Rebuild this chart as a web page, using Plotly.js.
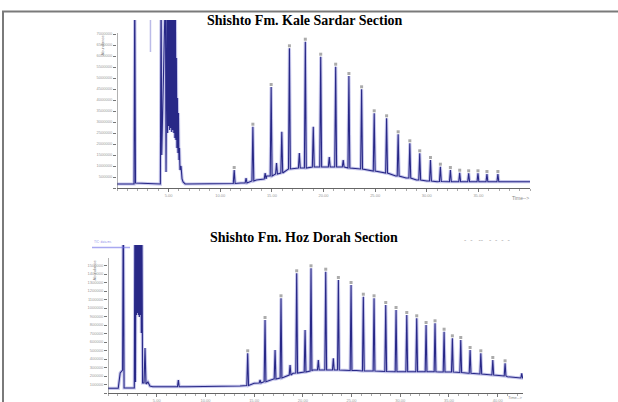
<!DOCTYPE html>
<html>
<head>
<meta charset="utf-8">
<script src="https://cdn.plot.ly/plotly-3.0.1.min.js"></script>
<style>html,body{margin:0;padding:0;background:#fff;}#chart{width:618px;height:402px;}</style>
</head>
<body>
<div id="chart"></div>
<script>
// ---------- Titles ----------
const titleTop = "Shishto Fm. Kale Sardar Section";
const titleBottom = "Shishto Fm. Hoz Dorah Section";

// ---------- Top chromatogram (Kale Sardar) : time (min), abundance (relative) ----------
const topSolventT = [0, 1.65, 1.72, 1.79, 4.2, 4.27, 4.33, 4.69, 4.75, 4.85, 4.9, 4.95, 5.0, 5.05, 5.1, 5.15, 5.2, 5.25, 5.3, 5.35, 5.4, 5.45, 5.5, 5.55, 5.6, 5.65, 5.7, 5.75, 5.8, 5.85, 5.9, 5.95, 6.0, 6.05, 6.1, 6.2, 6.3, 6.4, 6.6];
const topSolventY = [4, 4, 200, 5, 4, 200, 33, 200, 16, 200, 55, 200, 62, 200, 58, 200, 60, 200, 56, 200, 58, 200, 55, 200, 50, 200, 48, 130, 40, 90, 35, 75, 28, 40, 18, 22, 9, 6, 4];
const topBaseT = [8.0, 11.0, 12.0, 13.5, 14.5, 15.5, 16.5, 18.0, 20.0, 22.0, 23.5, 25.0, 26.0, 27.0, 28.0, 29.0, 30.0, 31.0, 33.5, 37.5, 40.0];
const topBaseY = [4, 4, 5, 8, 12, 15, 19, 20, 21, 20.5, 19, 17, 15, 12, 10, 8, 7, 6.3, 6.3, 6.3, 6.3];
const topPeakT    = [11.35, 12.5, 13.16, 14.35, 14.93, 15.45, 15.96, 16.70, 17.66, 18.24, 19.01, 19.73, 20.56, 21.18, 21.91, 22.46, 23.69, 24.91, 26.11, 27.23, 28.36, 29.32, 30.36, 31.32, 32.29, 33.19, 34.06, 34.96, 35.83, 36.89];
const topPeakBase = [4.5, 5, 7, 9, 12, 14, 15, 19, 20, 20, 21, 21, 21, 21, 21, 20, 19, 17, 15, 12, 10, 8, 7, 6.5, 6.3, 6.3, 6.3, 6.3, 6.3, 6.3];
const topPeakTop  = [18, 10, 61.3, 15, 101, 25, 56.3, 139.7, 35, 146.3, 61.3, 131.3, 31, 121.3, 28, 112, 98.7, 74.7, 69.7, 53.7, 44.7, 34.7, 28, 21.3, 18, 15.3, 14.7, 14.7, 14, 14];
const topLabelled = [1, 0, 1, 0, 1, 0, 0, 1, 0, 1, 0, 1, 0, 1, 0, 1, 1, 1, 1, 1, 1, 1, 1, 1, 1, 1, 1, 1, 1, 1];
const topGhostT = [3.24, 3.24];
const topGhostY = [200, 136];

// ---------- Bottom chromatogram (Hoz Dorah) ----------
const botSolventT = [0, 1.05, 1.25, 1.5, 1.57, 1.65, 2.7, 2.77, 2.82, 2.87, 2.92, 2.97, 3.02, 3.07, 3.12, 3.17, 3.22, 3.27, 3.32, 3.37, 3.42, 3.47, 3.55, 3.7, 3.8, 3.9, 4.1, 4.3, 4.6];
const botSolventY = [4.7, 4.7, 20, 23, 200, 5, 5, 200, 11, 200, 78, 200, 80, 200, 78, 200, 76, 200, 78, 200, 60, 200, 10, 10, 45, 9, 11, 7, 6.3];
const botBaseT = [6.0, 8.0, 12.5, 13.55, 15.0, 17.0, 19.0, 21.0, 23.0, 25.5, 28.0, 31.0, 34.0, 37.0, 39.0, 41.0, 42.81];
const botBaseY = [6.3, 6.3, 6.3, 7, 9.7, 14, 19.7, 23, 23, 22.5, 21.3, 21.3, 21, 19.7, 18, 16.3, 14.7];
const botPeakT    = [7.22, 14.34, 15.61, 16.12, 17.15, 17.76, 18.69, 19.37, 20.23, 20.84, 21.59, 22.35, 23.13, 23.65, 24.95, 26.21, 27.31, 28.51, 29.57, 30.67, 31.69, 32.65, 33.57, 34.50, 35.35, 36.21, 37.17, 38.27, 39.50, 40.76, 42.47];
const botPeakBase = [6.3, 7.5, 10, 11.3, 14, 15, 18, 20, 21, 22, 23, 23, 23, 23, 22.5, 22, 22, 21.5, 21.3, 21.3, 21.3, 21.3, 21.3, 21, 21, 20.5, 19.7, 19, 18, 17, 15];
const botPeakTop  = [13, 39.7, 13, 73, 43, 94.7, 28, 119.7, 63, 124.7, 33, 121.3, 34.7, 113, 108, 96.3, 94.7, 88, 83, 78, 74.7, 68, 69.7, 61.3, 54.7, 53, 43, 39.7, 33, 29.7, 19.7];
const botLabelled = [0, 1, 0, 1, 0, 1, 0, 1, 0, 1, 0, 1, 0, 1, 1, 1, 1, 1, 1, 1, 1, 1, 1, 1, 1, 1, 1, 1, 1, 1, 0];

// ---------- Axis ticks ----------
const topXTicks = [5, 10, 15, 20, 25, 30, 35];
const topXTickText = ["5.00", "10.00", "15.00", "20.00", "25.00", "30.00", "35.00"];
const botXTicks = [5, 10, 15, 20, 25, 30, 35, 40];
const botXTickText = ["5.00", "10.00", "15.00", "20.00", "25.00", "30.00", "35.00", "40.00"];
const topYTicks = [0, 11, 22, 33, 44, 55, 66, 77, 88, 99, 110, 121, 132, 143, 154];
const topYTickText = ["", "500000", "1000000", "1500000", "2000000", "2500000", "3000000", "3500000", "4000000", "4500000", "5000000", "5500000", "6000000", "6500000", "7000000"];
const botYTicks = [0, 8.5, 17, 25.5, 34, 42.5, 51, 59.5, 68, 76.5, 85, 93.5, 102, 110.5, 119, 127.5];
const botYTickText = ["", "100000", "200000", "300000", "400000", "500000", "600000", "700000", "800000", "900000", "1000000", "1100000", "1200000", "1300000", "1400000", "1500000"];

function buildChromatogram(solT, solY, baseT, baseY, pkT, pkBase, pkTop, w) {
  const pts = [];
  for (let i = 0; i < solT.length; i++) pts.push([solT[i], solY[i]]);
  for (let i = 0; i < baseT.length; i++) pts.push([baseT[i], baseY[i]]);
  for (let i = 0; i < pkT.length; i++) {
    pts.push([pkT[i] - w, pkBase[i]]);
    pts.push([pkT[i], pkTop[i]]);
    pts.push([pkT[i] + w, pkBase[i]]);
  }
  pts.sort((a, b) => a[0] - b[0]);
  return {x: pts.map(p => p[0]), y: pts.map(p => p[1])};
}

const topC = buildChromatogram(topSolventT, topSolventY, topBaseT, topBaseY, topPeakT, topPeakBase, topPeakTop, 0.09);
const botC = buildChromatogram(botSolventT, botSolventY, botBaseT, botBaseY, botPeakT, botPeakBase, botPeakTop, 0.09);

function labelPts(pkT, pkTop, lab) {
  const x = [], y = [];
  for (let i = 0; i < pkT.length; i++) if (lab[i]) { x.push(pkT[i]); y.push(pkTop[i] + 2.5); }
  return {x, y};
}
const topL = labelPts(topPeakT, topPeakTop, topLabelled);
const botL = labelPts(botPeakT, botPeakTop, botLabelled);

const halo = 'rgba(95,95,200,0.35)';
const core = 'rgb(40,40,135)';

const traces = [
  {x: topC.x, y: topC.y, xaxis: 'x', yaxis: 'y', mode: 'lines', line: {color: halo, width: 3.2}, hoverinfo: 'skip'},
  {x: topC.x, y: topC.y, xaxis: 'x', yaxis: 'y', mode: 'lines', line: {color: core, width: 1.1}},
  {x: topGhostT, y: topGhostY, xaxis: 'x', yaxis: 'y', mode: 'lines', line: {color: 'rgba(120,120,210,0.5)', width: 1.5}},
  {x: topL.x, y: topL.y, xaxis: 'x', yaxis: 'y', mode: 'markers', marker: {symbol: 'square', size: 3, color: 'rgba(150,150,150,0.8)'}},
  {x: botC.x, y: botC.y, xaxis: 'x2', yaxis: 'y2', mode: 'lines', line: {color: halo, width: 3.2}, hoverinfo: 'skip'},
  {x: botC.x, y: botC.y, xaxis: 'x2', yaxis: 'y2', mode: 'lines', line: {color: core, width: 1.1}},
  {x: botL.x, y: botL.y, xaxis: 'x2', yaxis: 'y2', mode: 'markers', marker: {symbol: 'square', size: 3, color: 'rgba(150,150,150,0.8)'}}
];

const W = 618, H = 402;
const px = v => v / W;
const py = v => 1 - v / H;

const axisFont = {family: 'Liberation Sans, Arial, sans-serif', size: 4, color: '#999'};
const xCommon = {
  showline: true, linecolor: '#666', linewidth: 1, zeroline: false, showgrid: false,
  ticks: 'outside', ticklen: 3, tickcolor: '#777', tickwidth: 1, tickfont: axisFont,
  minor: {dtick: 1, ticks: 'outside', ticklen: 1.5, tickcolor: '#aaa'},
  tickmode: 'array', fixedrange: true
};
const yCommon = {
  showline: false, zeroline: false, showgrid: false,
  ticks: 'outside', ticklen: 3, tickcolor: '#777', tickwidth: 1, tickfont: axisFont,
  tickmode: 'array', fixedrange: true
};

const layout = {
  width: W, height: H,
  margin: {l: 0, r: 0, t: 0, b: 0},
  paper_bgcolor: '#fff', plot_bgcolor: 'rgba(0,0,0,0)',
  showlegend: false,
  xaxis: Object.assign({}, xCommon, {domain: [px(117), px(530)], range: [0, 40], tickvals: topXTicks, ticktext: topXTickText, anchor: 'y'}),
  yaxis: Object.assign({}, yCommon, {domain: [py(188), py(20)], range: [0, 168], tickvals: topYTicks, ticktext: topYTickText, anchor: 'x'}),
  xaxis2: Object.assign({}, xCommon, {domain: [px(108), px(523)], range: [0, 42.6], tickvals: botXTicks, ticktext: botXTickText, anchor: 'y2'}),
  yaxis2: Object.assign({}, yCommon, {domain: [py(393), py(245)], range: [0, 148], tickvals: botYTicks, ticktext: botYTickText, anchor: 'x2'}),
  shapes: [
    {type: 'line', xref: 'paper', yref: 'paper', x0: px(3), x1: px(3), y0: 0, y1: py(11.5), line: {color: '#7a7a7a', width: 2}},
    {type: 'line', xref: 'paper', yref: 'paper', x0: px(2), x1: 1, y0: py(11.5), y1: py(11.5), line: {color: '#7a7a7a', width: 2}},
    {type: 'line', xref: 'x', yref: 'y', x0: 0, x1: 0, y0: 0, y1: 155, line: {color: '#666', width: 1}},
    {type: 'line', xref: 'x2', yref: 'y2', x0: 0, x1: 0, y0: 0, y1: 135, line: {color: '#666', width: 1}},
    {type: 'line', xref: 'paper', yref: 'paper', x0: px(92), x1: px(130), y0: py(247.5), y1: py(247.5), line: {color: 'rgba(110,110,230,0.6)', width: 1.5}}
  ],
  annotations: [
    {text: '<b>' + titleTop + '</b>', xref: 'paper', yref: 'paper', x: px(305), y: py(20.5), xanchor: 'center', yanchor: 'middle', showarrow: false,
     font: {family: 'Liberation Serif, Times New Roman, serif', size: 14, color: '#000'}},
    {text: '<b>' + titleBottom + '</b>', xref: 'paper', yref: 'paper', x: px(304), y: py(237), xanchor: 'center', yanchor: 'middle', showarrow: false,
     font: {family: 'Liberation Serif, Times New Roman, serif', size: 14, color: '#000'}},
    {text: '-  -   --   -  -  -  -', xref: 'paper', yref: 'paper', x: px(487), y: py(240), xanchor: 'center', yanchor: 'middle', showarrow: false,
     font: {family: 'Liberation Sans, sans-serif', size: 7, color: '#aaa'}},
    {text: 'Abundance', xref: 'paper', yref: 'paper', x: px(102), y: py(33), xanchor: 'center', yanchor: 'top', textangle: -90, showarrow: false,
     font: {family: 'Liberation Sans, sans-serif', size: 4, color: '#888'}},
    {text: 'Abundance', xref: 'paper', yref: 'paper', x: px(94), y: py(258), xanchor: 'center', yanchor: 'top', textangle: -90, showarrow: false,
     font: {family: 'Liberation Sans, sans-serif', size: 4, color: '#888'}},
    {text: 'Time-->', xref: 'paper', yref: 'paper', x: px(531), y: py(193), xanchor: 'right', yanchor: 'top', showarrow: false,
     font: {family: 'Liberation Sans, sans-serif', size: 5, color: '#888'}},
    {text: 'Time-->', xref: 'paper', yref: 'paper', x: px(523), y: py(397.5), xanchor: 'right', yanchor: 'middle', showarrow: false, borderpad: 0,
     font: {family: 'Liberation Sans, sans-serif', size: 4, color: '#888'}},
    {text: 'TIC: data.ms', xref: 'paper', yref: 'paper', x: px(92), y: py(246), xanchor: 'left', yanchor: 'bottom', showarrow: false,
     font: {family: 'Liberation Sans, sans-serif', size: 3, color: 'rgba(110,110,230,0.8)'}}
  ]
};

Plotly.newPlot('chart', traces, layout, {staticPlot: true, displayModeBar: false});
</script>
</body>
</html>
